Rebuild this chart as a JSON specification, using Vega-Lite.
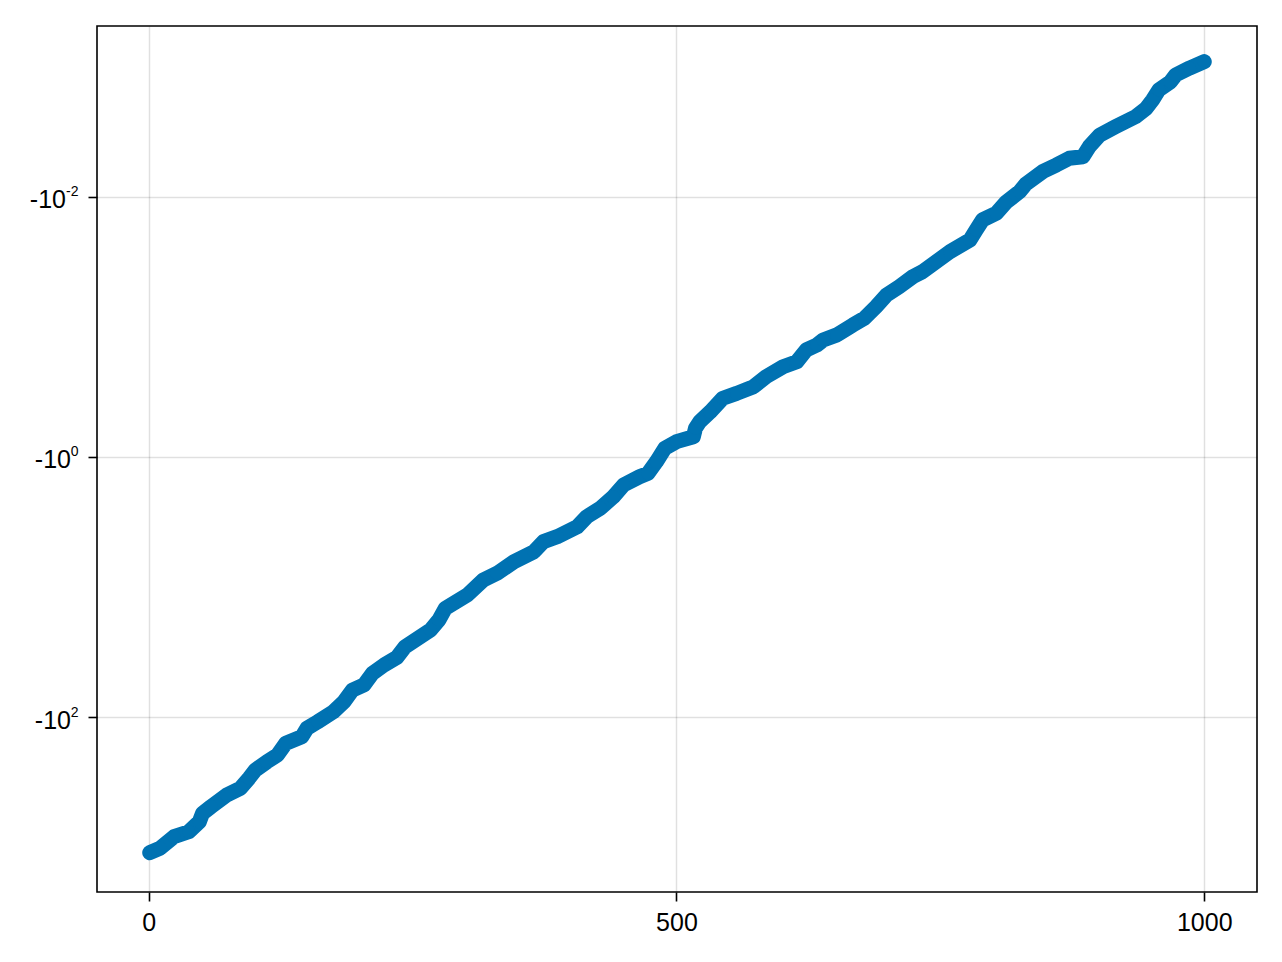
{
  "$schema": "https://vega.github.io/schema/vega-lite/v6.json",
  "width": 1160,
  "height": 866,
  "autosize": {"type": "none"},
  "padding": {"left": 97, "top": 26, "right": 25, "bottom": 70},
  "background": "white",
  "config": {
    "view": {"stroke": "#000000", "strokeWidth": 1.6},
    "axis": {
      "domain": false,
      "grid": true,
      "gridColor": "#000000",
      "gridOpacity": 0.12,
      "gridWidth": 1.5,
      "tickColor": "#000000",
      "tickSize": 9,
      "tickWidth": 1.6,
      "labelFont": "Liberation Sans",
      "labelFontSize": 25,
      "labelColor": "#000000"
    }
  },
  "data": {
    "values": [
      {"x": 1, "y": -1106}, {"x": 11, "y": -1018}, {"x": 24, "y": -833}, {"x": 38, "y": -763},
      {"x": 48, "y": -639}, {"x": 51, "y": -551}, {"x": 59, "y": -490}, {"x": 74, "y": -398},
      {"x": 87, "y": -353}, {"x": 95, "y": -296}, {"x": 101, "y": -256}, {"x": 112, "y": -221},
      {"x": 122, "y": -196}, {"x": 130, "y": -159}, {"x": 145, "y": -142}, {"x": 150, "y": -122},
      {"x": 160, "y": -109}, {"x": 175, "y": -91}, {"x": 185, "y": -76.3}, {"x": 193, "y": -62},
      {"x": 204, "y": -56.7}, {"x": 212, "y": -46.1}, {"x": 223, "y": -39.8}, {"x": 235, "y": -34.9},
      {"x": 243, "y": -28.8}, {"x": 267, "y": -21.4}, {"x": 275, "y": -17.9}, {"x": 281, "y": -14.6},
      {"x": 302, "y": -11.5}, {"x": 317, "y": -8.83}, {"x": 330, "y": -7.85}, {"x": 346, "y": -6.39},
      {"x": 365, "y": -5.35}, {"x": 374, "y": -4.48}, {"x": 387, "y": -4.1}, {"x": 406, "y": -3.44},
      {"x": 415, "y": -2.88}, {"x": 428, "y": -2.47}, {"x": 440, "y": -2.03}, {"x": 450, "y": -1.64},
      {"x": 465, "y": -1.42}, {"x": 473, "y": -1.335}, {"x": 481, "y": -1.087}, {"x": 489, "y": -0.857},
      {"x": 500, "y": -0.762}, {"x": 516, "y": -0.698}, {"x": 518, "y": -0.601}, {"x": 522, "y": -0.535},
      {"x": 532, "y": -0.449}, {"x": 544, "y": -0.353}, {"x": 557, "y": -0.324}, {"x": 573, "y": -0.288},
      {"x": 585, "y": -0.241}, {"x": 601, "y": -0.202}, {"x": 614, "y": -0.185}, {"x": 623, "y": -0.15},
      {"x": 633, "y": -0.1375}, {"x": 639, "y": -0.126}, {"x": 652, "y": -0.115}, {"x": 667, "y": -0.0966},
      {"x": 678, "y": -0.0857}, {"x": 689, "y": -0.0698}, {"x": 699, "y": -0.0567}, {"x": 711, "y": -0.049},
      {"x": 724, "y": -0.041}, {"x": 733, "y": -0.0376}, {"x": 746, "y": -0.0315}, {"x": 759, "y": -0.0264},
      {"x": 778, "y": -0.0214}, {"x": 784, "y": -0.0179}, {"x": 790, "y": -0.015}, {"x": 803, "y": -0.01334},
      {"x": 812, "y": -0.01102}, {"x": 825, "y": -0.0091}, {"x": 831, "y": -0.00794}, {"x": 847, "y": -0.00638},
      {"x": 860, "y": -0.00567}, {"x": 872, "y": -0.00504}, {"x": 885, "y": -0.0049}, {"x": 891, "y": -0.0041},
      {"x": 901, "y": -0.00334}, {"x": 916, "y": -0.00288}, {"x": 935, "y": -0.00241}, {"x": 945, "y": -0.00208},
      {"x": 951, "y": -0.001795}, {"x": 957, "y": -0.0015}, {"x": 968, "y": -0.0013}, {"x": 973, "y": -0.00115},
      {"x": 986, "y": -0.00102}, {"x": 1000, "y": -0.00091}
    ]
  },
  "encoding": {
    "x": {
      "field": "x",
      "type": "quantitative",
      "scale": {"domain": [-48.95, 1049.95], "nice": false, "zero": false},
      "axis": {"values": [0, 500, 1000], "format": "d", "labelPadding": 9, "title": null}
    }
  },
  "layer": [
    {
      "mark": {"type": "line", "color": "#0072B2", "strokeWidth": 15, "strokeCap": "round", "strokeJoin": "round"},
      "encoding": {
        "y": {
          "field": "y",
          "type": "quantitative",
          "scale": {"type": "log", "domain": [-2218, -0.000484], "nice": false},
          "axis": {
            "orient": "left",
            "values": [-100, -1, -0.01],
            "labelExpr": "datum.value > -0.1 ? '-10\u2009\u2060' : '-10'",
            "labelPadding": 17.5,
            "labelOffset": 3,
            "title": null
          }
        }
      }
    },
    {
      "mark": {"type": "circle", "color": "#0072B2", "opacity": 1, "size": 177},
      "encoding": {
        "y": {
          "field": "y",
          "type": "quantitative",
          "scale": {"type": "log", "domain": [-2218, -0.000484], "nice": false},
          "axis": {
            "orient": "left",
            "values": [-100, -1, -0.01],
            "labelExpr": "datum.value < -10 ? '2' : (datum.value < -0.1 ? '0' : '-2')",
            "labelFontSize": 14,
            "labelOffset": -5,
            "labelPadding": 19,
            "ticks": false,
            "grid": false,
            "title": null
          }
        }
      }
    }
  ],
  "resolve": {"axis": {"y": "independent"}}
}
